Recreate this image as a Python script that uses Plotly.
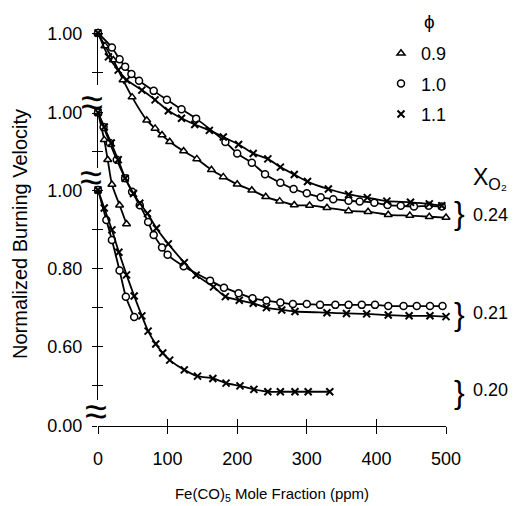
import plotly.graph_objects as go

# ---------------- data ----------------
# X_O2 = 0.24
ppm_24_t = [0, 10, 22, 36, 49, 70, 82, 92, 103, 123, 142, 163, 180, 200, 221, 241, 261, 282, 304, 329, 360, 388, 417, 448, 476, 500]
v_24_t = [1.000, 0.967, 0.931, 0.880, 0.836, 0.777, 0.756, 0.739, 0.722, 0.698, 0.678, 0.650, 0.632, 0.613, 0.598, 0.581, 0.570, 0.560, 0.559, 0.553, 0.545, 0.543, 0.535, 0.533, 0.530, 0.528]
ppm_24_c = [0, 20, 31, 39, 48, 59, 80, 99, 120, 141, 183, 200, 221, 240, 262, 281, 300, 320, 338, 360, 376, 397, 416, 435, 454, 475, 494]
v_24_c = [1.000, 0.963, 0.933, 0.914, 0.895, 0.878, 0.852, 0.829, 0.805, 0.781, 0.721, 0.692, 0.668, 0.639, 0.617, 0.601, 0.590, 0.580, 0.575, 0.571, 0.569, 0.566, 0.560, 0.558, 0.556, 0.558, 0.556]
ppm_24_x = [0, 15, 29, 41, 63, 82, 101, 120, 139, 160, 180, 202, 223, 244, 262, 282, 301, 331, 360, 387, 415, 449, 476, 494]
v_24_x = [1.000, 0.939, 0.905, 0.880, 0.854, 0.829, 0.801, 0.782, 0.766, 0.751, 0.734, 0.715, 0.692, 0.678, 0.657, 0.638, 0.620, 0.601, 0.587, 0.579, 0.570, 0.567, 0.563, 0.558]

# X_O2 = 0.21
ppm_21_t = [0, 9, 14, 20, 31, 41]
v_21_t = [1.000, 0.930, 0.879, 0.816, 0.763, 0.715]
ppm_21_c = [0, 8, 17, 27, 39, 49, 60, 72, 80, 92, 100, 123, 161, 181, 202, 222, 242, 262, 280, 300, 319, 341, 360, 379, 398, 417, 439, 458, 477, 495]
v_21_c = [1.000, 0.963, 0.922, 0.879, 0.832, 0.797, 0.763, 0.720, 0.687, 0.655, 0.636, 0.607, 0.570, 0.552, 0.538, 0.525, 0.519, 0.514, 0.510, 0.510, 0.508, 0.508, 0.508, 0.508, 0.508, 0.505, 0.505, 0.505, 0.505, 0.505]
ppm_21_x = [0, 9, 19, 29, 39, 51, 60, 71, 84, 101, 124, 141, 166, 183, 203, 223, 242, 264, 283, 329, 357, 386, 417, 447, 477, 500]
v_21_x = [1.000, 0.963, 0.922, 0.879, 0.832, 0.793, 0.768, 0.742, 0.704, 0.664, 0.616, 0.584, 0.554, 0.529, 0.520, 0.512, 0.501, 0.495, 0.491, 0.488, 0.486, 0.485, 0.482, 0.480, 0.480, 0.478]

# X_O2 = 0.20
ppm_20_c = [0, 12, 20, 31, 40, 52]
v_20_c = [1.000, 0.923, 0.872, 0.794, 0.727, 0.675]
ppm_20_x = [0, 9, 20, 30, 41, 52, 63, 72, 83, 93, 103, 124, 143, 165, 184, 204, 224, 244, 262, 283, 302, 333]
v_20_x = [1.000, 0.954, 0.898, 0.841, 0.783, 0.729, 0.678, 0.639, 0.606, 0.583, 0.565, 0.540, 0.524, 0.518, 0.506, 0.499, 0.490, 0.484, 0.484, 0.484, 0.484, 0.484]

x_ticks = [0, 100, 200, 300, 400, 500]
y20_ticks = [0.5, 0.6, 0.7, 0.8, 0.9, 1.0]
y20_labels = ["", "0.60", "", "0.80", "", "1.00"]
ytop_ticks = [0.9, 1.0]
ytop_labels = ["", "1.00"]
zero_ticks = [0]
zero_labels = ["0.00"]
phi_names = ["0.9", "1.0", "1.1"]
xo2_labels = ["0.24", "0.21", "0.20"]

# ---------------- geometry (reference pixel coordinates) ----------------
OFF = 8                 # the page places the figure 8 px in from the top-left corner
W, Hfig = 516 - OFF, 506 - OFF
L, R = 98, 446          # page x of 0 and 500 ppm
T, B = 20, 426          # page y of plot top / 0.00 line
H = B - T
S = 391.0               # px per unit of normalized velocity
P1 = {"0.20": 190.0, "0.21": 112.5, "0.24": 33.0}       # page y of 1.00 for each group
PEND = {"0.20": 400.0, "0.21": 168.0, "0.24": 85.0}     # lower end of drawn axis line


def full_range(p1):
    return [1 - (B - p1) / S, 1 + (p1 - T) / S]


def line_domain(p1, pend):
    return [(B - pend) / H, (B - p1) / H], [1 - (pend - p1) / S, 1 + 0.5 / S]


def px(xp):
    return (xp - L) / (R - L)


def py(yp):
    return (B - yp) / H


BLACK = "black"
FONT = "Liberation Sans, Arial, Helvetica, sans-serif"

fig = go.Figure()

sym = {"t": "triangle-up", "c": "circle", "x": "x-thin"}
phi_of = {"t": phi_names[0], "c": phi_names[1], "x": phi_names[2]}
rank = {"t": 1, "c": 2, "x": 3}


def add_series(xs, ys, kind, yax, legend):
    fig.add_trace(go.Scatter(x=xs, y=ys, yaxis=yax, mode="lines",
                             line=dict(color=BLACK, width=1.8, shape="spline", smoothing=0.6),
                             showlegend=False, hoverinfo="skip"))
    if kind == "x":
        mk = dict(symbol="x-thin", size=7, line=dict(color=BLACK, width=2))
    else:
        mk = dict(symbol=sym[kind], size=7, color="white", line=dict(color=BLACK, width=1.5))
    fig.add_trace(go.Scatter(x=xs, y=ys, yaxis=yax, mode="markers", marker=mk,
                             name=phi_of[kind], showlegend=legend, legendrank=rank[kind],
                             legendgroup=phi_of[kind], cliponaxis=False))


add_series(ppm_24_t, v_24_t, "t", "y3", True)
add_series(ppm_24_c, v_24_c, "c", "y3", True)
add_series(ppm_24_x, v_24_x, "x", "y3", True)
add_series(ppm_21_t, v_21_t, "t", "y2", False)
add_series(ppm_21_c, v_21_c, "c", "y2", False)
add_series(ppm_21_x, v_21_x, "x", "y2", False)
add_series(ppm_20_c, v_20_c, "c", "y", False)
add_series(ppm_20_x, v_20_x, "x", "y", False)

# invisible anchor traces so that the decorative axes get drawn
for xa, ya, yy in [("x2", "y", 1.0), ("x", "y4", 1.0), ("x", "y5", 1.0), ("x", "y6", 1.0), ("x", "y7", 0.0)]:
    fig.add_trace(go.Scatter(x=[x_ticks[0]], y=[yy], xaxis=xa, yaxis=ya, mode="markers",
                             marker=dict(size=1, opacity=0), showlegend=False, hoverinfo="skip"))

plain = dict(showgrid=False, zeroline=False)
tickfont = dict(family=FONT, size=18, color=BLACK)

d20, r20 = line_domain(P1["0.20"], PEND["0.20"])
d21, r21 = line_domain(P1["0.21"], PEND["0.21"])
d24, r24 = line_domain(P1["0.24"], PEND["0.24"])

vis_axis = dict(anchor="x", ticks="outside", ticklen=5, tickcolor=BLACK, showline=True,
                linecolor=BLACK, linewidth=1.3, tickfont=tickfont, ticklabelstandoff=6, **plain)

fig.update_layout(
    width=W, height=Hfig,
    margin=dict(l=L - OFF, r=W - (R - OFF), t=T - OFF, b=Hfig - (B - OFF), autoexpand=False),
    plot_bgcolor="rgba(0,0,0,0)", paper_bgcolor="white",
    font=dict(family=FONT, size=17, color=BLACK),
    showlegend=True,
    legend=dict(x=px(381), y=py(35), xanchor="left", yanchor="top",
                bgcolor="rgba(0,0,0,0)", font=dict(size=18),
                itemwidth=30, tracegroupgap=4),
    xaxis=dict(range=[0, 500], tickvals=x_ticks, ticks="outside", ticklen=7, tickwidth=1,
               tickcolor=BLACK, showline=True, linecolor=BLACK, linewidth=1.2,
               tickfont=tickfont, ticklabelstandoff=9,
               title=dict(text="Fe(CO)<sub>5</sub> Mole Fraction (ppm)", font=dict(size=15), standoff=20),
               **plain),
    xaxis2=dict(range=[0, 500], overlaying="x", anchor="y", tickvals=x_ticks, ticks="inside",
                ticklen=7, tickcolor=BLACK, showticklabels=False, showline=False, **plain),
    yaxis=dict(range=full_range(P1["0.20"]), tickvals=y20_ticks, ticks="inside", ticklen=5,
               tickcolor=BLACK, showticklabels=False, showline=False, **plain),
    yaxis2=dict(range=full_range(P1["0.21"]), overlaying="y", tickvals=ytop_ticks, ticks="inside",
                ticklen=5, tickcolor=BLACK, showticklabels=False, showline=False, **plain),
    yaxis3=dict(range=full_range(P1["0.24"]), overlaying="y", tickvals=ytop_ticks, ticks="inside",
                ticklen=5, tickcolor=BLACK, showticklabels=False, showline=False, **plain),
    yaxis4=dict(domain=d20, range=r20, tickvals=y20_ticks, ticktext=y20_labels, **vis_axis),
    yaxis5=dict(domain=d21, range=r21, tickvals=ytop_ticks, ticktext=ytop_labels, **vis_axis),
    yaxis6=dict(domain=d24, range=r24, tickvals=ytop_ticks, ticktext=ytop_labels, **vis_axis),
    yaxis7=dict(domain=[0, 0.05], range=[0, 0.05], anchor="x", tickvals=zero_ticks,
                ticktext=zero_labels, ticks="outside", ticklen=5, tickcolor=BLACK,
                showline=False, tickfont=tickfont, ticklabelstandoff=6, **plain),
)

ann = []
# legend header (equivalence ratio)
ann.append(dict(x=px(429), y=py(22), xref="paper", yref="paper", text="ϕ", showarrow=False,
                font=dict(size=19, color=BLACK), xanchor="center", yanchor="middle"))
# y-axis title
ann.append(dict(x=px(20), y=py(234), xref="paper", yref="paper", text="Normalized Burning Velocity",
                textangle=-90, showarrow=False, font=dict(size=20, color=BLACK),
                xanchor="center", yanchor="middle"))
# axis breaks
for (bx, by) in [(92, 102), (91, 177), (96, 411)]:
    ann.append(dict(x=px(bx), y=py(by), xref="paper", yref="paper", text="≈", showarrow=False,
                    font=dict(size=40, color=BLACK), xanchor="center", yanchor="middle"))
# X_O2 header
ann.append(dict(x=px(471), y=py(178), xref="paper", yref="paper", text="X<sub>O₂</sub>",
                showarrow=False, font=dict(size=23, color=BLACK), xanchor="left", yanchor="middle"))
# braces and group labels
for lab, bcy, lcy in zip(xo2_labels, [213.5, 314, 391.5], [215, 313, 390]):
    ann.append(dict(x=px(460), y=py(bcy), xref="paper", yref="paper", text="}", showarrow=False,
                    font=dict(size=32, color=BLACK), xanchor="center", yanchor="middle"))
    ann.append(dict(x=px(471), y=py(lcy), xref="paper", yref="paper", text=lab, showarrow=False,
                    font=dict(size=18, color=BLACK), xanchor="left", yanchor="middle"))
fig.update_layout(annotations=ann)

fig.write_html("out.html")
